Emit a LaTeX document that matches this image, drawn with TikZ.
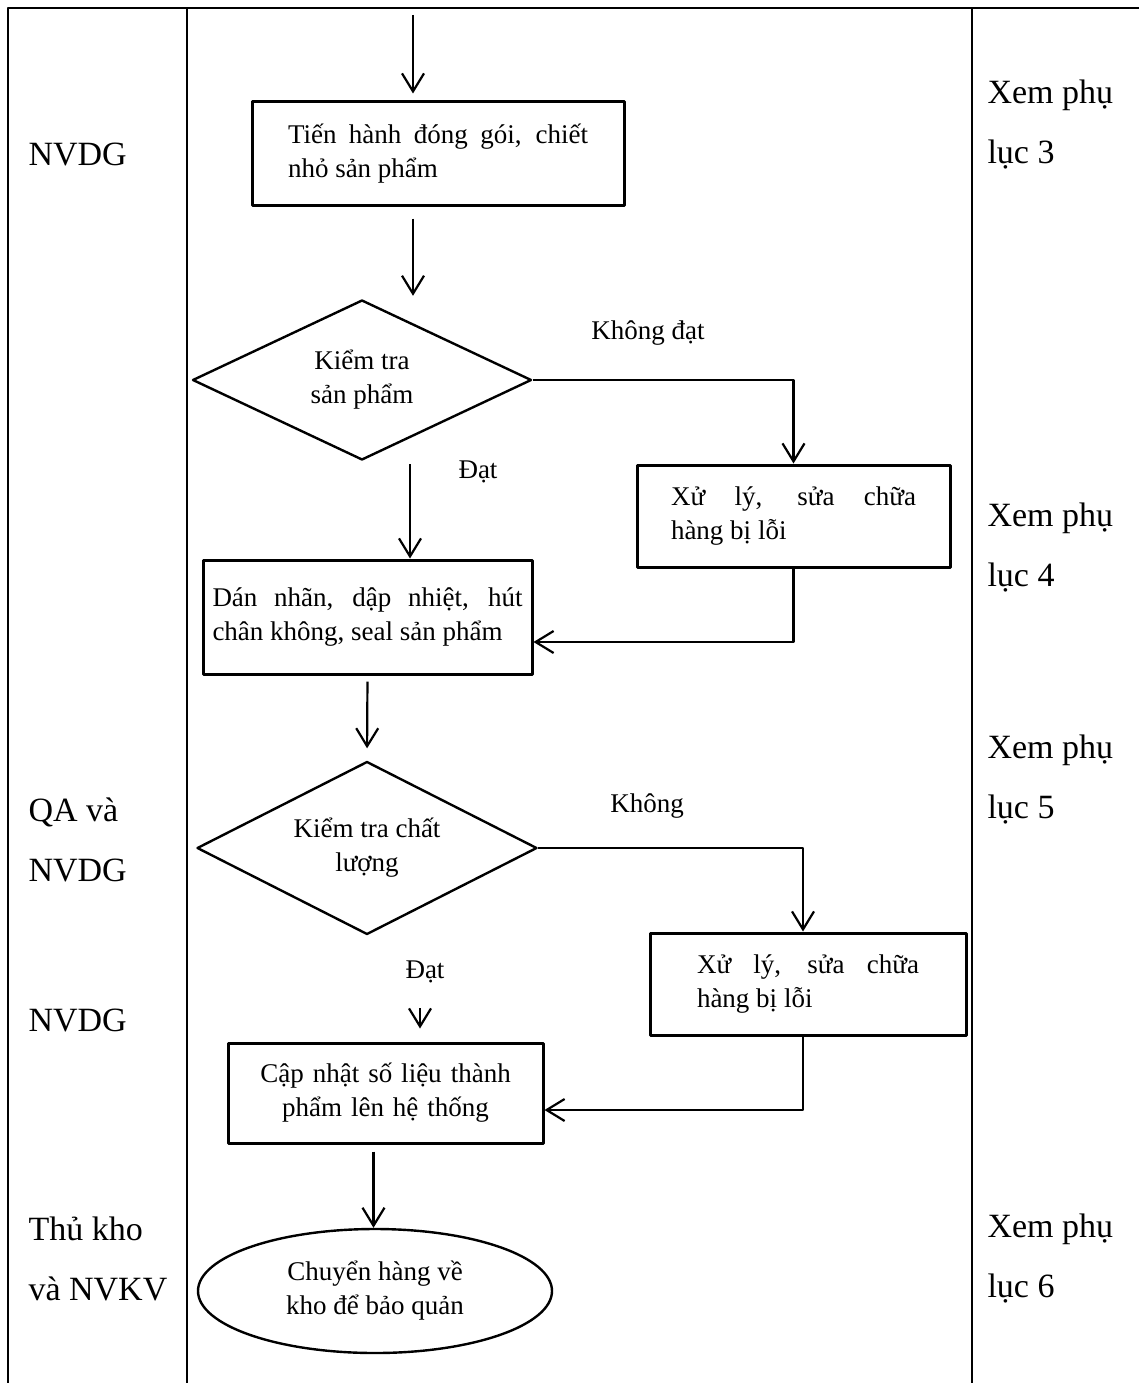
\documentclass[tikz,border=0pt]{standalone}
\usepackage{fontspec}
\setmainfont{Liberation Serif}
\usetikzlibrary{arrows.meta}
\usetikzlibrary{shapes.geometric}

\newcommand\stepfont{\fontsize{27}{34}\selectfont}
\newcommand\lanefont{\fontsize{34}{60}\selectfont}

\begin{document}
\begin{tikzpicture}[
  x=1pt, y=-1pt,
  line join=round,
  >={Straight Barb[length=18pt,width=22pt]},
  lane/.style={line width=1.6pt},
  arr/.style={->,line width=2.2pt},
  stepbox/.style={draw,line width=3pt,inner sep=0pt,font=\stepfont},
  decision/.style={diamond,draw,line width=2.4pt,inner sep=0pt,aspect=2.1,align=center,font=\stepfont},
  lanetext/.style={anchor=west,align=left,font=\lanefont}
]
\useasboundingbox (0,0) rectangle (1139,1383);

% lanes
\draw [lane] (8,1383) -- (8,8) -- (1139,8);
\draw [lane] (187,8) -- (187,1383);
\draw [lane] (972,8) -- (972,1383);

% who does it / where to look
\node [lanetext] (who1) at (25,155) {NVDG};
\node [lanetext] (who2) at (25,840) {QA và\\NVDG};
\node [lanetext] (who3) at (25,1020) {NVDG};
\node [lanetext] (who4) at (25,1259) {Thủ kho\\và NVKV};
\node [lanetext] (ref3) at (984,125) {Xem phụ\\lục 3};
\node [lanetext] (ref4) at (984,548) {Xem phụ\\lục 4};
\node [lanetext] (ref5) at (984,780) {Xem phụ\\lục 5};
\node [lanetext] (ref6) at (984,1259) {Xem phụ\\lục 6};

% steps
\node [stepbox, minimum width=372, minimum height=103, text width=300, align=justify]
  (pack) at (438,153.5) {Tiến hành đóng gói, chiết\linebreak nhỏ sản phẩm};
\node [decision, minimum width=339, minimum height=160] (check1) at (362,380) {Kiểm tra\\sản phẩm};
\node [stepbox, minimum width=313, minimum height=102, text width=245, align=justify]
  (fix1) at (793.5,516) {Xử lý, sửa chữa\linebreak hàng bị lỗi};
\node [stepbox, minimum width=329, minimum height=114, text width=310, align=justify]
  (label) at (367.5,617) {Dán nhãn, dập nhiệt, hút\linebreak chân không, seal sản phẩm};
\node [decision, minimum width=340, minimum height=173] (check2) at (367,848) {Kiểm tra chất\\lượng};
\node [stepbox, minimum width=316, minimum height=102, text width=222, align=justify]
  (fix2) at (808,984) {Xử lý, sửa chữa\linebreak hàng bị lỗi};
\node [stepbox, minimum width=315, minimum height=100, text width=270, align=center]
  (update) at (385.5,1093) {Cập nhật số liệu thành\\phẩm lên hệ thống};
\node [ellipse, draw, line width=2.4pt, inner sep=0pt, minimum width=354, minimum height=124,
  align=center, font=\stepfont] (store) at (375,1291) {Chuyển hàng về\\kho để bảo quản};

% branch labels
\node [font=\stepfont] (no1) at (648,333) {Không đạt};
\node [font=\stepfont] (yes1) at (478,472) {Đạt};
\node [font=\stepfont] (no2) at (647,806) {Không};
\node [font=\stepfont] (yes2) at (425,972) {Đạt};

% flow
\coordinate (start) at (413,15);
\coordinate (pass2) at (420,1008);
\draw [arr, shorten >=7] (start) -- (start |- pack.north);
\draw [arr, shorten <=12, shorten >=3] (start |- pack.south) -- (start |- check1.north);
\draw [arr] (check1.east) -| (fix1.north);
\draw [arr, shorten <=3] ([xshift=48]check1.south) -- ([xshift=48]check1.south |- label.north);
\draw [arr] (fix1.south) |- ([yshift=-25]label.east);
\draw [arr, shorten <=6, shorten >=12] (label.south) -- (check2.north);
\draw [arr] (check2.east) -| ([xshift=-5]fix2.north);
\draw [arr, shorten >=13] (pass2) -- (pass2 |- update.north);
\draw [arr] ([xshift=-5]fix2.south) |- ([yshift=-17]update.east);
\draw [arr, shorten <=7] ([xshift=-12]update.south) -- ([xshift=-12]update.south |- store.north);

\end{tikzpicture}
\end{document}
